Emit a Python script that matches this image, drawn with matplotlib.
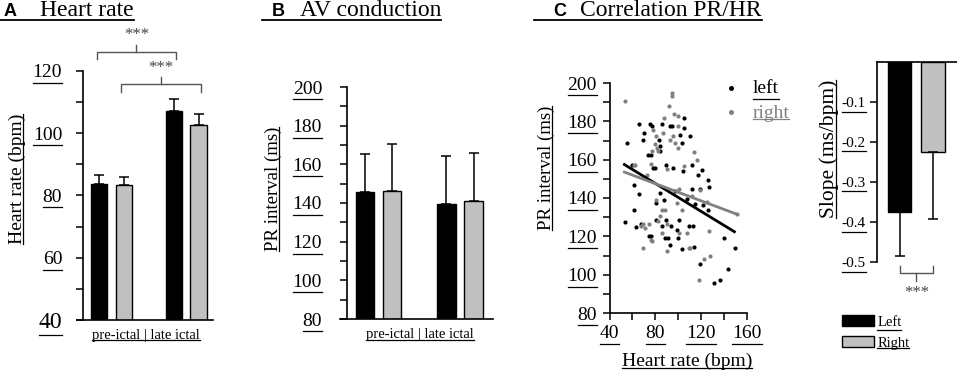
import matplotlib.pyplot as plt
import numpy as np
from matplotlib.lines import Line2D
from matplotlib.patches import Patch

plt.rcParams['font.family'] = ['Liberation Serif', 'DejaVu Serif']

# bar groups: pre-ictal left/right, late ictal left/right
bar_pos = [1, 2, 4, 5]
bar_colors = ['black', '#c0c0c0', 'black', '#c0c0c0']

# A - heart rate (bpm)
hr_mean = [83.5, 83.2, 107.0, 102.5]
hr_err = [3.0, 2.6, 4.0, 3.5]

# B - PR interval (ms)
pr_mean = [145.5, 146.4, 139.5, 141.2]
pr_err = [20.0, 24.0, 25.0, 24.8]

# C - scatter, PR interval vs heart rate
left_hr = [53.2, 54.9, 59.9, 61.0, 61.0, 65.8, 63.0, 67.8, 65.8, 69.9, 69.3, 73.7, 76.6, 75.1,
           77.5, 74.4, 76.0, 78.0, 79.5, 80.4, 81.0, 83.0, 83.9, 84.5, 86.2, 83.9, 85.4, 87.4,
           88.3, 89.3, 89.3, 91.2, 92.7, 93.3, 92.7, 94.2, 95.6, 97.1, 98.5, 100.0, 100.9, 101.5,
           102.9, 103.8, 102.9, 104.7, 104.7, 107.6, 109.1, 110.5, 112.0, 112.0, 112.9, 113.5,
           115.0, 117.0, 118.8, 119.4, 120.8, 121.4, 126.3, 126.3, 127.2, 131.3, 136.6, 139.5,
           143.0, 149.7]
left_pr = [127.3, 168.7, 157.4, 147.0, 134.0, 142.1, 125.0, 126.5, 178.8, 173.9, 170.4, 162.6,
           162.6, 178.8, 177.4, 120.3, 120.0, 155.7, 155.7, 137.4, 128.7, 170.4, 166.9, 164.3,
           178.8, 142.6, 125.2, 139.1, 119.3, 157.4, 128.7, 119.1, 115.7, 125.2, 177.4, 177.4,
           155.7, 143.5, 123.1, 119.1, 128.7, 173.0, 168.7, 154.0, 113.2, 181.7, 176.5, 139.5,
           125.2, 172.2, 157.4, 144.8, 125.2, 114.4, 136.7, 152.2, 144.9, 105.6, 154.4, 136.5,
           133.9, 149.2, 145.7, 95.7, 97.4, 119.1, 102.8, 113.9]
right_hr = [53.2, 61.0, 62.5, 67.6, 69.5, 69.5, 71.3, 72.7, 74.8, 76.3, 77.2, 78.0, 76.3, 77.2,
            79.5, 81.0, 81.6, 82.4, 81.0, 81.9, 84.0, 85.4, 86.2, 86.8, 87.7, 88.3, 89.8, 89.8,
            90.4, 91.8, 92.7, 94.2, 94.7, 95.6, 96.5, 97.1, 98.5, 99.4, 100.0, 100.0, 100.6,
            100.9, 102.9, 104.7, 107.6, 109.1, 110.5, 112.0, 113.5, 116.4, 117.9, 119.4, 122.3,
            126.6, 128.0, 125.2, 151.0]
right_pr = [190.4, 157.4, 157.0, 125.2, 126.5, 113.9, 124.5, 152.2, 126.5, 118.3, 117.4, 175.7,
            158.0, 164.3, 168.0, 172.2, 166.0, 164.3, 139.1, 127.8, 130.4, 133.9, 121.7, 174.0,
            181.7, 133.9, 155.0, 126.5, 112.6, 187.8, 170.4, 194.6, 193.4, 172.2, 184.0, 168.7,
            137.2, 183.0, 177.6, 166.0, 144.8, 121.7, 133.6, 156.5, 121.7, 113.9, 113.9, 140.9,
            163.8, 159.8, 97.4, 144.2, 108.3, 122.6, 110.0, 137.9, 131.6]
# regression lines: slope, intercept, x range
left_fit = (-0.365, 176.8, 53, 149)
right_fit = (-0.224, 165.4, 53, 151)

# D - slopes
slope_labels = ['Left', 'Right']
slope_mean = [-0.375, -0.226]
slope_err = [0.111, 0.166]

W, H = 957, 371
fig = plt.figure(figsize=(W / 100, H / 100), dpi=100)


def px_axes(l, r, t, b):
    return fig.add_axes([l / W, 1 - b / H, (r - l) / W, (b - t) / H])


def style(ax, pad):
    for s in ['top', 'right']:
        ax.spines[s].set_visible(False)
    for s in ax.spines.values():
        s.set_linewidth(1.2)
    ax.tick_params(axis='y', which='both', direction='out', length=5, width=1.1, pad=pad,
                   labelsize=14)


axA = px_axes(83, 213, 70.7, 320)
axB = px_axes(347, 493, 87, 319)
axC = px_axes(609.5, 747, 83, 313)
axD = px_axes(877, 957, 62, 262)

# ---- A
axA.bar(bar_pos, hr_mean, width=0.65, color=bar_colors, edgecolor='black', linewidth=1,
        yerr=[np.zeros(4), hr_err], capsize=3.5, error_kw=dict(elinewidth=1.1, capthick=1.1))
axA.set_ylim(40, 120)
axA.set_xlim(0.355, 5.58)
axA.set_yticks([40, 60, 80, 100, 120])
axA.set_yticks([50, 70, 90, 110], minor=True)
axA.set_xticks([])
style(axA, 10)
axA.get_yticklabels()[0].set_fontsize(17)
axA.set_ylabel('Heart rate (bpm)', fontsize=14)
axA.yaxis.set_label_coords(-0.44, 0.566)
axA.set_xlabel('pre-ictal | late ictal', fontsize=10.5)
axA.xaxis.set_label_coords(0.485, -0.036)
axA.spines['bottom'].set_bounds(0.11, 5.58)

# significance brackets
for (x1, x2, ylo, yhi, ytick, ytxt) in [(0.9, 4.1, 123.8, 126.0, 128.2, 131.5),
                                        (1.9, 5.1, 113.2, 115.7, 118.0, 120.9)]:
    xm = (x1 + x2) / 2
    axA.plot([x1, x1, x2, x2], [ylo, yhi, yhi, ylo], color='#555555', lw=1, clip_on=False)
    axA.plot([xm, xm], [yhi, ytick], color='#555555', lw=1, clip_on=False)
    axA.text(xm, ytxt, '***', ha='center', va='center', fontsize=12, color='#444444')

# ---- B
axB.bar(bar_pos, pr_mean, width=0.67, color=bar_colors, edgecolor='black', linewidth=1,
        yerr=[np.zeros(4), pr_err], capsize=3.5, error_kw=dict(elinewidth=1.1, capthick=1.1))
axB.set_ylim(80, 200)
axB.set_xlim(0.32, 5.72)
axB.set_yticks([80, 100, 120, 140, 160, 180, 200])
axB.set_yticks([90, 110, 130, 150, 170, 190], minor=True)
axB.set_xticks([])
style(axB, 13)
axB.set_ylabel('PR interval (ms)', fontsize=13.5)
axB.yaxis.set_label_coords(-0.445, 0.56)
axB.set_xlabel('pre-ictal | late ictal', fontsize=10.5)
axB.xaxis.set_label_coords(0.5, -0.039)
axB.spines['bottom'].set_bounds(0.06, 5.72)

# ---- C
axC.scatter(left_hr, left_pr, s=9, color='black', linewidths=0, label='left')
axC.scatter(right_hr, right_pr, s=9, color='#808080', linewidths=0, label='right')
for (m, c, x0, x1), col in [(left_fit, 'black'), (right_fit, '#808080')]:
    xs = np.array([x0, x1])
    axC.plot(xs, m * xs + c, color=col, lw=2)
axC.set_xlim(40, 160)
axC.set_ylim(80, 200)
axC.set_xticks([40, 80, 120, 160])
axC.set_xticks([60, 100, 140], minor=True)
axC.set_yticks([80, 100, 120, 140, 160, 180, 200])
axC.set_yticks([90, 110, 130, 150, 170, 190], minor=True)
style(axC, 4)
axC.tick_params(axis='x', which='both', direction='out', length=5, width=1.1, pad=4,
                labelsize=14)
axC.set_ylabel('PR interval (ms)', fontsize=13.5)
axC.yaxis.set_label_coords(-0.396, 0.63)
axC.set_xlabel('Heart rate (bpm)', fontsize=14)
axC.xaxis.set_label_coords(0.564, -0.174)
legC = axC.legend(loc='upper left', bbox_to_anchor=(702 / W, 1 - 62 / H),
                  bbox_transform=fig.transFigure, frameon=False, fontsize=14,
                  handletextpad=0.5, labelspacing=0.35, markerscale=1.2,
                  handlelength=1.2)
legC.get_texts()[1].set_color('#808080')

# ---- D
axD.bar([1, 2], slope_mean, width=0.69, color=['black', '#c0c0c0'], edgecolor='black',
        linewidth=1, yerr=[slope_err, np.zeros(2)], capsize=3.5,
        error_kw=dict(elinewidth=1.1, capthick=1.1))
axD.set_ylim(-0.5, 0)
axD.set_xlim(0.328, 2.716)
axD.set_yticks([-0.1, -0.2, -0.3, -0.4, -0.5])
axD.set_yticklabels(['-0.1', '-0.2', '-0.3', '-0.4', '-0.5'])
axD.set_xticks([])
for s in ['bottom', 'right']:
    axD.spines[s].set_visible(False)
for s in axD.spines.values():
    s.set_linewidth(1.2)
axD.tick_params(axis='y', direction='out', length=5, width=1.1, pad=3, labelsize=11)
axD.set_ylabel('Slope (ms/bpm)', fontsize=15.5)
axD.yaxis.set_label_coords(-0.475, 0.565)
axD.plot([1, 1, 2, 2], [-0.51, -0.5275, -0.5275, -0.51], color='#555555', lw=1, clip_on=False)
axD.plot([1.5, 1.5], [-0.5275, -0.5475], color='#555555', lw=1, clip_on=False)
axD.text(1.5, -0.577, '***', ha='center', va='center', fontsize=12, color='#444444')
legD = fig.legend(handles=[Patch(facecolor='black', edgecolor='black', label=slope_labels[0]),
                           Patch(facecolor='#c0c0c0', edgecolor='black', label=slope_labels[1])],
                  loc='upper left', bbox_to_anchor=(829 / W, 1 - 302 / H), frameon=False,
                  fontsize=10.5, handlelength=2.2, handleheight=0.8, handletextpad=0.2,
                  labelspacing=0.5)

# ---- panel titles
titles = [('A', 'Heart rate', 4, 40, 0), ('B', 'AV conduction', 272, 300, 262),
          ('C', 'Correlation PR/HR', 553, 580, 534)]
title_texts = []
for letter, name, xl, xn, x0 in titles:
    fig.text(xl / W, 1 - 16 / H, letter, family=['Liberation Sans'], weight='bold', fontsize=13,
             va='baseline')
    t = fig.text(xn / W, 1 - 16 / H, name, fontsize=17, va='baseline')
    title_texts.append((t, x0))

# ---- underlines
fig.canvas.draw()
renderer = fig.canvas.get_renderer()
inv = fig.transFigure.inverted()


def underline(t, color=None, lw=0.9, gap=1.5):
    if not t.get_text() or not t.get_visible():
        return
    bb = t.get_window_extent(renderer)
    _, _, d = renderer.get_text_width_height_descent(t.get_text(), t.get_fontproperties(),
                                                     ismath=False)
    c = color if color is not None else t.get_color()
    if abs(t.get_rotation() - 90) < 1:
        x = bb.x1 - d + gap
        pts = inv.transform([[x, bb.y0], [x, bb.y1]])
    else:
        y = bb.y0 + d - gap
        pts = inv.transform([[bb.x0, y], [bb.x1, y]])
    fig.add_artist(Line2D(pts[:, 0], pts[:, 1], color=c, lw=lw))


for ax in [axA, axB, axC, axD]:
    for t in ax.get_yticklabels():
        underline(t)
    underline(ax.yaxis.label)
    if ax.get_xlabel():
        underline(ax.xaxis.label)
for t in axC.get_xticklabels():
    underline(t)
for t in legC.get_texts() + legD.get_texts():
    underline(t)

for t, x0 in title_texts:
    bb = t.get_window_extent(renderer)
    y = 1 - 20 / H
    fig.add_artist(Line2D([x0 / W, inv.transform([[bb.x1, 0]])[0, 0]], [y, y],
                          color='black', lw=1.3))

fig.savefig('out.png', dpi=100)
